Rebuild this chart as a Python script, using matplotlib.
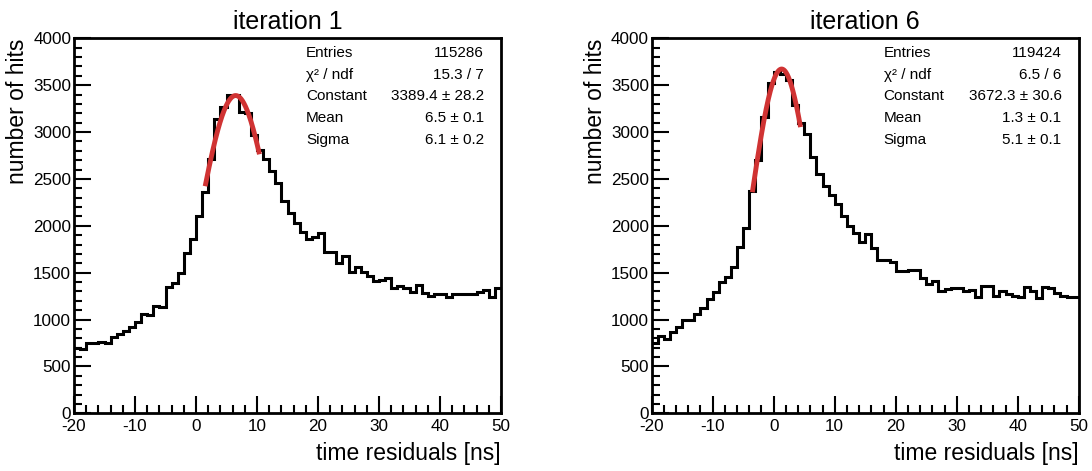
import numpy as np
import matplotlib
matplotlib.use('Agg')
import matplotlib.pyplot as plt
from matplotlib.ticker import MultipleLocator

plt.rcParams['font.family'] = ['Liberation Sans', 'DejaVu Sans']
plt.rcParams['axes.unicode_minus'] = False

# bin edges: 1 ns bins from -20 to 50
edges = np.arange(-20, 51, 1)

# iteration 1 histogram contents
hits_it1 = [700, 683, 747, 747, 757, 747, 811, 846, 882, 924,
            971, 1056, 1045, 1149, 1138, 1351, 1387, 1494, 1710, 1860,
            2102, 2365, 2713, 3136, 3271, 3400, 3396, 3218, 3200, 2969,
            2809, 2713, 2589, 2461, 2269, 2134, 2027, 1938, 1856, 1877,
            1920, 1725, 1725, 1600, 1678, 1511, 1557, 1511, 1469, 1415,
            1422, 1440, 1333, 1358, 1333, 1291, 1366, 1280, 1252, 1273,
            1273, 1237, 1270, 1273, 1273, 1273, 1298, 1316, 1245, 1333]

# iteration 6 histogram contents
hits_it6 = [754, 825, 797, 871, 917, 996, 996, 1060, 1120, 1216,
            1291, 1405, 1458, 1557, 1771, 1981, 2375, 2702, 3165, 3520,
            3645, 3620, 3555, 3289, 3094, 2980, 2731, 2553, 2425, 2329,
            2233, 2109, 2002, 1920, 1824, 1913, 1760, 1636, 1630, 1618,
            1522, 1518, 1529, 1529, 1440, 1376, 1415, 1305, 1323, 1341,
            1341, 1309, 1316, 1245, 1362, 1362, 1252, 1309, 1270, 1255,
            1237, 1351, 1309, 1227, 1344, 1334, 1287, 1255, 1245, 1245]

# gaussian fit results shown in the stat boxes
fit_it1 = {'const': 3389.4, 'mean': 6.5, 'sigma': 6.1, 'range': (1.5, 10.4)}
fit_it6 = {'const': 3672.3, 'mean': 1.3, 'sigma': 5.1, 'range': (-3.5, 4.4)}

stats_it1 = [('Entries', '115286'), ('χ² / ndf', '15.3 / 7'),
             ('Constant', '3389.4 ± 28.2'), ('Mean', '6.5 ± 0.1'),
             ('Sigma', '6.1 ± 0.2')]
stats_it6 = [('Entries', '119424'), ('χ² / ndf', '6.5 / 6'),
             ('Constant', '3672.3 ± 30.6'), ('Mean', '1.3 ± 0.1'),
             ('Sigma', '5.1 ± 0.1')]

titles = ['iteration 1', 'iteration 6']

W, H = 1092, 471
fig = plt.figure(figsize=(W / 100, H / 100), dpi=100)

panels = [(74, hits_it1, fit_it1, stats_it1, titles[0]),
          (651.7, hits_it6, fit_it6, stats_it6, titles[1])]

for x0, hits, fit, stats, title in panels:
    ax = fig.add_axes([x0 / W, (H - 413.3) / H, 427 / W, 375 / H])
    ax.stairs(hits, edges, baseline=None, color='black', linewidth=2.2)

    xs = np.linspace(fit['range'][0], fit['range'][1], 200)
    ys = fit['const'] * np.exp(-0.5 * ((xs - fit['mean']) / fit['sigma']) ** 2)
    ax.plot(xs, ys, color='#d03333', linewidth=3.5, solid_capstyle='butt')

    ax.set_xlim(-20, 50)
    ax.set_ylim(0, 4000)
    ax.xaxis.set_major_locator(MultipleLocator(10))
    ax.xaxis.set_minor_locator(MultipleLocator(2))
    ax.yaxis.set_major_locator(MultipleLocator(500))
    ax.yaxis.set_minor_locator(MultipleLocator(100))
    ax.tick_params(which='both', direction='in', top=False, right=False,
                   labelsize=12.3, width=1.5)
    ax.tick_params(axis='x', which='major', length=12, pad=4)
    ax.tick_params(axis='x', which='minor', length=6)
    ax.tick_params(axis='y', which='major', length=12, pad=2)
    ax.tick_params(axis='y', which='minor', length=6)
    for sp in ax.spines.values():
        sp.set_linewidth(2)

    ax.set_xlabel('time residuals [ns]', fontsize=16.5, loc='right', labelpad=6)
    ax.set_ylabel('number of hits', fontsize=16.5, loc='top', labelpad=3)
    ax.set_title(title, fontsize=18, pad=7)

    for i, (name, val) in enumerate(stats):
        yy = 0.961 - i * 0.058
        ax.text(0.543, yy, name, transform=ax.transAxes, fontsize=11,
                ha='left', va='center')
        ax.text(0.960, yy, val, transform=ax.transAxes, fontsize=11,
                ha='right', va='center')

plt.savefig('out.png', dpi=100)
